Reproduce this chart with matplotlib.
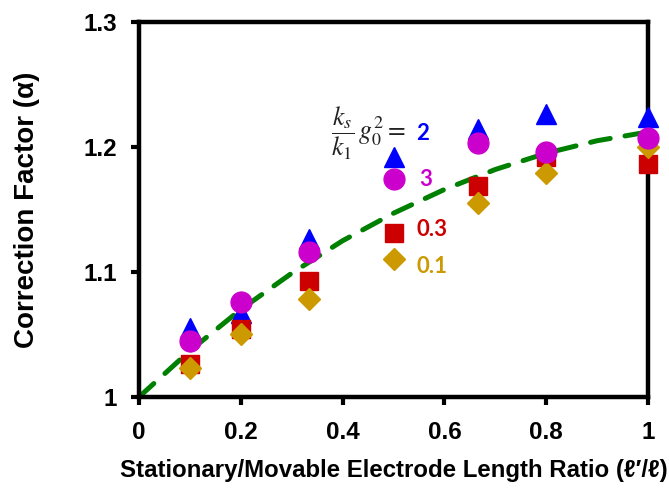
"""
Correction factor vs. stationary/movable electrode length ratio
"""

import matplotlib.pyplot as plt
import numpy as np

plt.rcParams['font.family'] = ['Liberation Sans', 'DejaVu Sans']
plt.rcParams['mathtext.fontset'] = 'stix'

# Length ratios at which the correction factor was evaluated
ratio = [0.1, 0.2, 1 / 3, 0.5, 2 / 3, 0.8, 1.0]

# Correction factor for each stiffness parameter (ks/k1 * g0^2)
alpha_2 = [1.055, 1.067, 1.126, 1.192, 1.214, 1.226, 1.224]
alpha_3 = [1.045, 1.076, 1.116, 1.174, 1.203, 1.196, 1.207]
alpha_03 = [1.026, 1.054, 1.093, 1.131, 1.169, 1.192, 1.186]
alpha_01 = [1.023, 1.050, 1.078, 1.110, 1.155, 1.179, 1.200]

# Model curve (dashed green)
model_x = [0.0, 0.1, 0.2, 0.3, 0.4, 0.5, 0.6, 0.7, 0.8, 0.9, 1.0]
model_y = [1.000, 1.037, 1.070, 1.099, 1.125, 1.147, 1.166, 1.182, 1.195, 1.205, 1.212]

blue = '#0000FF'
magenta = '#CC00CC'
red = '#CC0000'
gold = '#CC9900'
green = '#008000'

fig = plt.figure(figsize=(6.69, 4.95), dpi=100)
ax = fig.add_axes([0.2078, 0.198, 0.7608, 0.7576])

ax.plot(model_x, model_y, color=green, lw=3.6, dashes=(4, 3), dash_capstyle='round', zorder=2)

ax.plot(ratio, alpha_2, '^', color=blue, ms=14, mec=blue, zorder=3, clip_on=False)
ax.plot(ratio, alpha_03, 's', color=red, ms=13, mec=red, zorder=4, clip_on=False)
ax.plot(ratio, alpha_01, 'D', color=gold, ms=11, mec=gold, zorder=5, clip_on=False)
ax.plot(ratio, alpha_3, 'o', color=magenta, ms=15, mec=magenta, zorder=6, clip_on=False)

# Parameter labels next to the x = 0.5 markers
ax.text(0.378, 1.211, r'$\dfrac{k_s}{k_1}\,g_0^2 =$', fontsize=18.5, color='#222222',
        ha='left', va='center')
num_style = dict(fontsize=16, fontweight='bold', family='Lato', ha='left', va='center')
ax.text(0.545, 1.211, '2', color=blue, **num_style)
ax.text(0.550, 1.174, '3', color=magenta, **num_style)
ax.text(0.545, 1.134, '0.3', color=red, **num_style)
ax.text(0.545, 1.104, '0.1', color=gold, **num_style)

ax.set_xlim(0, 1)
ax.set_ylim(1.0, 1.3)
ax.set_xticks([0, 0.2, 0.4, 0.6, 0.8, 1.0])
ax.set_xticklabels(['0', '0.2', '0.4', '0.6', '0.8', '1'])
ax.set_yticks([1.0, 1.1, 1.2, 1.3])
ax.set_yticklabels(['1', '1.1', '1.2', '1.3'])

for side in ['left', 'right', 'top', 'bottom']:
    ax.spines[side].set_linewidth(3.2)
ax.tick_params(direction='out', length=6, width=3, labelsize=17.5, pad=10)
ax.tick_params(axis='x', pad=11)
for lbl in ax.get_xticklabels() + ax.get_yticklabels():
    lbl.set_fontweight('bold')

ax.set_xlabel("Stationary/Movable Electrode Length Ratio (ℓ′/ℓ)", fontsize=17.3,
              fontweight='bold', labelpad=11)
ax.set_ylabel("Correction Factor (α)", fontsize=20, fontweight='bold', labelpad=31)

fig.savefig('out.png', dpi=100)
